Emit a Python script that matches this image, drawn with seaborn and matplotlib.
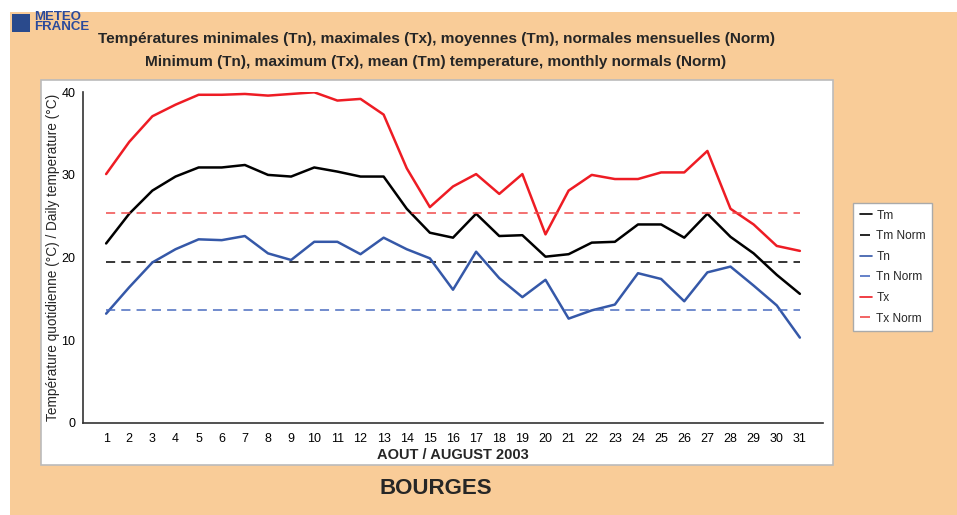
import pandas as pd
import matplotlib.pyplot as plt
import seaborn as sns
from matplotlib.patches import Rectangle

sns.set_style('white')
plt.rcParams['font.family'] = ['Liberation Sans', 'DejaVu Sans']

days = list(range(1, 32))
tx = [30.1, 34.0, 37.1, 38.5, 39.7, 39.7, 39.8, 39.6, 39.8, 40.0, 39.0, 39.2, 37.3, 30.8, 26.1, 28.6,
      30.1, 27.7, 30.1, 22.8, 28.1, 30.0, 29.5, 29.5, 30.3, 30.3, 32.9, 25.9, 24.0, 21.4, 20.8]
tm = [21.7, 25.3, 28.1, 29.8, 30.9, 30.9, 31.2, 30.0, 29.8, 30.9, 30.4, 29.8, 29.8, 25.9, 23.0, 22.4,
      25.3, 22.6, 22.7, 20.1, 20.4, 21.8, 21.9, 24.0, 24.0, 22.4, 25.3, 22.5, 20.5, 17.9, 15.6]
tn = [13.2, 16.4, 19.4, 21.0, 22.2, 22.1, 22.6, 20.5, 19.7, 21.9, 21.9, 20.4, 22.4, 21.0, 19.9, 16.1,
      20.7, 17.5, 15.2, 17.3, 12.6, 13.6, 14.3, 18.1, 17.4, 14.7, 18.2, 18.9, 16.6, 14.2, 10.3]
tm_norm = 19.5
tn_norm = 13.6
tx_norm = 25.4

series = {
    'Tm': tm, 'Tm Norm': [tm_norm] * len(days),
    'Tn': tn, 'Tn Norm': [tn_norm] * len(days),
    'Tx': tx, 'Tx Norm': [tx_norm] * len(days),
}
df = pd.DataFrame({'day': days, **series}).melt(id_vars='day', var_name='serie', value_name='temp')

palette = {'Tm': '#000000', 'Tm Norm': '#000000', 'Tn': '#3558A8', 'Tn Norm': '#4A6CC0',
           'Tx': '#EE1C24', 'Tx Norm': '#F04A4A'}
dashes = {'Tm': '', 'Tn': '', 'Tx': '', 'Tm Norm': (6, 4), 'Tn Norm': (6, 4), 'Tx Norm': (6, 4)}

bg = '#F9CC98'
fig = plt.figure(figsize=(9.57, 5.15), dpi=100)
fig.patch.set_facecolor('white')
fig.patches.append(Rectangle((10 / 957, 0), 1, 1 - 12 / 515, transform=fig.transFigure,
                             facecolor=bg, edgecolor='none', zorder=-2))
fig.patches.append(Rectangle((41 / 957, 1 - 465 / 515), 792 / 957, 385 / 515, transform=fig.transFigure,
                             facecolor='white', edgecolor='#BBBBBB', linewidth=1.2, zorder=-1))

ax = fig.add_axes([83 / 957, 1 - 422.7 / 515, 740 / 957, 330.4 / 515])
ax.set_facecolor('none')
sns.lineplot(data=df, x='day', y='temp', hue='serie', style='serie', palette=palette,
             dashes=dashes, linewidth=1.8, ax=ax)
for ln in ax.lines:
    if ln.get_linestyle() == '--':
        ln.set_linewidth(1.1)

ax.set_xlim(0, 32)
ax.set_ylim(0, 40)
ax.set_xticks(days)
ax.set_yticks(range(0, 41, 5))
ax.set_yticklabels([str(v) if v % 10 == 0 else '' for v in range(0, 41, 5)])
ax.tick_params(axis='both', direction='inout', length=7, width=1, labelsize=9, colors='#333333',
               labelcolor='black', pad=2)
ax.tick_params(axis='x', pad=4)
for s in ['top', 'right']:
    ax.spines[s].set_visible(False)
for s in ['left', 'bottom']:
    ax.spines[s].set_color('#333333')
    ax.spines[s].set_linewidth(1.2)

ax.set_xlabel('AOUT / AUGUST 2003', fontsize=10.5, fontweight='bold', labelpad=2)
ax.set_ylabel('Température quotidienne (°C) / Daily temperature (°C)', fontsize=9.8, labelpad=1)

handles, labels = ax.get_legend_handles_labels()
for h in handles:
    h.set_linewidth(1.2)
leg = ax.legend(handles, labels, loc='upper left', bbox_to_anchor=(853 / 957, 1 - 203 / 515),
                bbox_transform=fig.transFigure, fontsize=8.6, handlelength=1.0, handletextpad=0.4,
                labelspacing=0.72, borderpad=0.55, borderaxespad=0, fancybox=False, framealpha=1,
                edgecolor='#AAAAAA')

fig.text(436 / 957, 1 - 39 / 515, 'Températures minimales (Tn), maximales (Tx), moyennes (Tm), normales mensuelles (Norm)',
         ha='center', va='center', fontsize=11.1, fontweight='bold')
fig.text(436 / 957, 1 - 62 / 515, 'Minimum (Tn), maximum (Tx), mean (Tm) temperature, monthly normals (Norm)',
         ha='center', va='center', fontsize=11.1, fontweight='bold')
fig.text(436 / 957, 1 - 488 / 515, 'BOURGES', ha='center', va='center', fontsize=16, fontweight='bold')

fig.patches.append(Rectangle((12 / 957, 1 - 32 / 515), 18 / 957, 18 / 515, transform=fig.transFigure,
                             facecolor='#2A4A8C', edgecolor='none'))
fig.text(34 / 957, 1 - 22 / 515, 'METEO\nFRANCE', ha='left', va='center', fontsize=9.5, fontweight='bold',
         color='#2A4A9C', linespacing=0.85)

fig.savefig('out.png', dpi=100, facecolor=fig.get_facecolor())
